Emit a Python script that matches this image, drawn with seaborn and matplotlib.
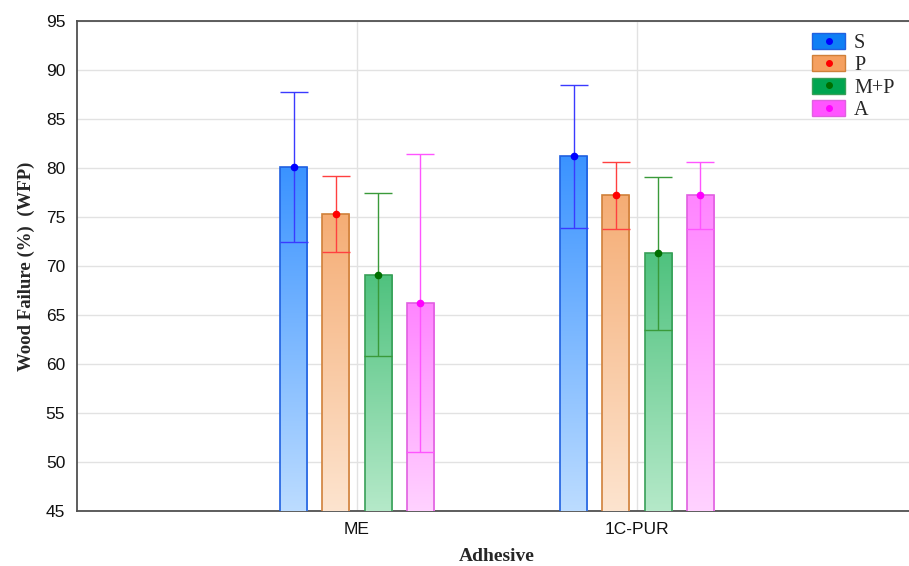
import numpy as np
import pandas as pd
import matplotlib
matplotlib.use("Agg")
import matplotlib.pyplot as plt
from matplotlib.colors import LinearSegmentedColormap
from matplotlib.patches import Patch
from matplotlib.lines import Line2D
import seaborn as sns

# values
adhesives = ["ME", "1C-PUR"]
treatments = ["S", "P", "M+P", "A"]
mean_me = [80.1, 75.3, 69.1, 66.2]
err_me = [7.7, 3.9, 8.3, 15.2]
mean_pur = [81.2, 77.2, 71.3, 77.2]
err_pur = [7.3, 3.4, 7.8, 3.4]
yticks = list(range(45, 96, 5))

top_cols = ["#3a93ff", "#f5ad75", "#4fc27e", "#ff85ff"]
bot_cols = ["#bcdcff", "#fde4cf", "#b5e9c9", "#ffd2ff"]
edge_cols = ["#2060e0", "#d0803a", "#38a058", "#e060e0"]
err_cols = ["#3a3aff", "#ff4040", "#3a9a3a", "#ff55ff"]
dot_cols = ["#0000ff", "#ff0000", "#006e00", "#ff00ff"]
leg_cols = ["#0f7ff5", "#f5a060", "#00a550", "#ff55ff"]

df = pd.DataFrame({
    "adhesive": np.repeat(adhesives, len(treatments)),
    "treatment": treatments * len(adhesives),
    "wfp": mean_me + mean_pur,
    "err": err_me + err_pur,
})

sns.set_style("white")
fig = plt.figure(figsize=(9.09, 5.66), dpi=100)
ax = fig.add_axes([77 / 909, 55 / 566, 840 / 909, 490 / 566])

sns.barplot(data=df, x="adhesive", y="wfp", hue="treatment", order=adhesives,
            hue_order=treatments, width=0.604, gap=0.36, errorbar=None,
            legend=False, ax=ax, zorder=3)

ax.set_ylim(45, 95)
ax.set_xlim(-1, 2)
grad = np.linspace(0, 1, 256).reshape(-1, 1)
bar_groups = list(ax.containers)

for i, cont in enumerate(bar_groups):
    cmap = LinearSegmentedColormap.from_list("g%d" % i, [bot_cols[i], top_cols[i]])
    sub = df[df["treatment"] == treatments[i]]
    for bar, m, e in zip(cont, sub["wfp"], sub["err"]):
        x0 = bar.get_x()
        w = bar.get_width()
        bar.set_facecolor("none")
        bar.set_edgecolor(edge_cols[i])
        bar.set_linewidth(1.2)
        bar.set_zorder(4)
        im = ax.imshow(grad, cmap=cmap, origin="lower", aspect="auto",
                       extent=(x0, x0 + w, 45, m), zorder=3)
        im.set_clip_path(bar)
        ax.errorbar(x0 + w / 2, m, yerr=e, fmt="none", ecolor=err_cols[i],
                    elinewidth=1.0, capsize=10, capthick=1.0, zorder=5)
        ax.plot(x0 + w / 2, m, "o", color=dot_cols[i], ms=4.5, zorder=6)

ax.set_xlim(-1, 2)
ax.set_ylim(45, 95)
ax.set_yticks(yticks)
ax.grid(True, color="#e2e2e2", lw=1.0, zorder=0)
ax.set_axisbelow(True)
for s in ["left", "top", "bottom"]:
    ax.spines[s].set_color("#505050")
    ax.spines[s].set_linewidth(1.3)
ax.spines["right"].set_visible(False)
ax.tick_params(axis="y", length=0, pad=8.5, labelsize=12.5)
ax.tick_params(axis="x", direction="in", length=3, color="#505050", pad=8, labelsize=12.5)
for t in ax.get_xticklabels() + ax.get_yticklabels():
    t.set_family("Liberation Sans")
    t.set_color("#111111")

ax.set_xlabel("Adhesive", family="Liberation Serif", fontweight="bold", fontsize=14, labelpad=8)
ax.set_ylabel("Wood Failure (%)  (WFP)", family="Liberation Serif", fontweight="bold",
              fontsize=13.5, labelpad=8)

handles = []
for i in range(4):
    handles.append((Patch(facecolor=leg_cols[i], edgecolor=edge_cols[i], lw=1),
                    Line2D([], [], marker="o", ls="none", color=dot_cols[i], ms=4)))
leg = ax.legend(handles, treatments, loc="upper left", bbox_to_anchor=(812 / 909, 1 - 33 / 566),
                bbox_transform=fig.transFigure, frameon=False,
                prop={"family": "Liberation Serif", "size": 14.5},
                handlelength=1.64, handleheight=0.85, labelspacing=0.12,
                handletextpad=0.45, borderpad=0, borderaxespad=0)

fig.savefig("out.png", dpi=100)
